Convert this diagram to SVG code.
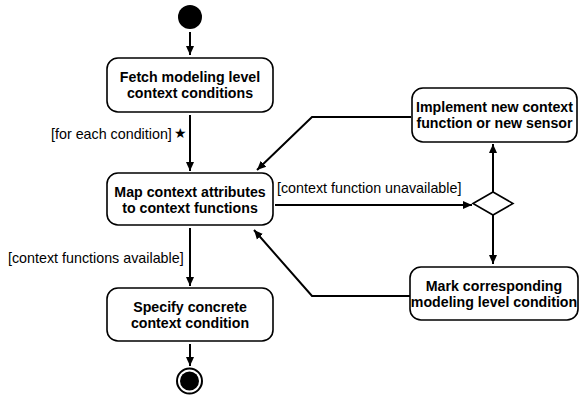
<svg xmlns="http://www.w3.org/2000/svg" width="579" height="403" viewBox="0 0 579 403">
<defs>
<marker id="arr" markerWidth="10" markerHeight="10" refX="9" refY="5" orient="auto" markerUnits="userSpaceOnUse">
<path d="M0,1 L9,5 L0,9 Z" fill="#000"/>
</marker>
<style>
.box{fill:#fff;stroke:#000;stroke-width:1.6}
.t{font-family:"Liberation Sans",Arial,sans-serif;font-weight:bold;font-size:14.2px;text-anchor:middle;fill:#000}
.lbl{font-family:"Liberation Sans",Arial,sans-serif;font-size:14.3px;fill:#000}
.c{fill:none;stroke:#000;stroke-width:2;marker-end:url(#arr)}
</style>
</defs>
<rect width="579" height="403" fill="#fff"/>
<g id="connectors">
<line class="c" x1="190" y1="32" x2="190" y2="55"/>
<line class="c" x1="190" y1="115" x2="190" y2="171"/>
<line class="c" x1="190" y1="228" x2="190" y2="286"/>
<line class="c" x1="190" y1="344" x2="190" y2="366"/>
<line class="c" x1="275" y1="205" x2="472" y2="205"/>
<line class="c" x1="493" y1="192" x2="493" y2="144"/>
<line class="c" x1="493" y1="215" x2="493" y2="264"/>
<polyline class="c" points="411,117 312,117 257,170"/>
<polyline class="c" points="411,296 312,296 254,230"/>
<text class="lbl" x="51" y="139">[for each condition]</text>
<text class="lbl" x="174" y="138" font-size="9">★</text>
<text class="lbl" x="277" y="193">[context function unavailable]</text>
<text class="lbl" x="8" y="263">[context functions available]</text>
</g>
<g id="start"><circle cx="190" cy="17" r="12" fill="#000"/></g>
<g id="fetch">
<rect class="box" x="107" y="58" width="166" height="54" rx="11"/>
<text class="t" x="190" y="82">Fetch modeling level</text>
<text class="t" x="190" y="98">context conditions</text>
</g>
<g id="map">
<rect class="box" x="107" y="173" width="166" height="52" rx="11"/>
<text class="t" x="190" y="197">Map context attributes</text>
<text class="t" x="190" y="213">to context functions</text>
</g>
<g id="specify">
<rect class="box" x="107" y="288" width="166" height="53" rx="11"/>
<text class="t" x="190" y="312">Specify concrete</text>
<text class="t" x="190" y="328">context condition</text>
</g>
<g id="end">
<circle cx="189.5" cy="381" r="12.5" fill="#fff" stroke="#000" stroke-width="2"/>
<circle cx="189.5" cy="381" r="9.5" fill="#000"/>
</g>
<g id="implement">
<rect class="box" x="412" y="88" width="165" height="54" rx="11"/>
<text class="t" x="494.5" y="112">Implement new context</text>
<text class="t" x="494.5" y="128">function or new sensor</text>
</g>
<g id="decision">
<polygon points="473,203.5 493,192 513,203.5 493,215" fill="#fff" stroke="#000" stroke-width="1.6"/>
</g>
<g id="mark">
<rect class="box" x="410" y="267" width="168" height="53" rx="11"/>
<text class="t" x="494" y="291">Mark corresponding</text>
<text class="t" x="494" y="307">modeling level condition</text>
</g>
</svg>
